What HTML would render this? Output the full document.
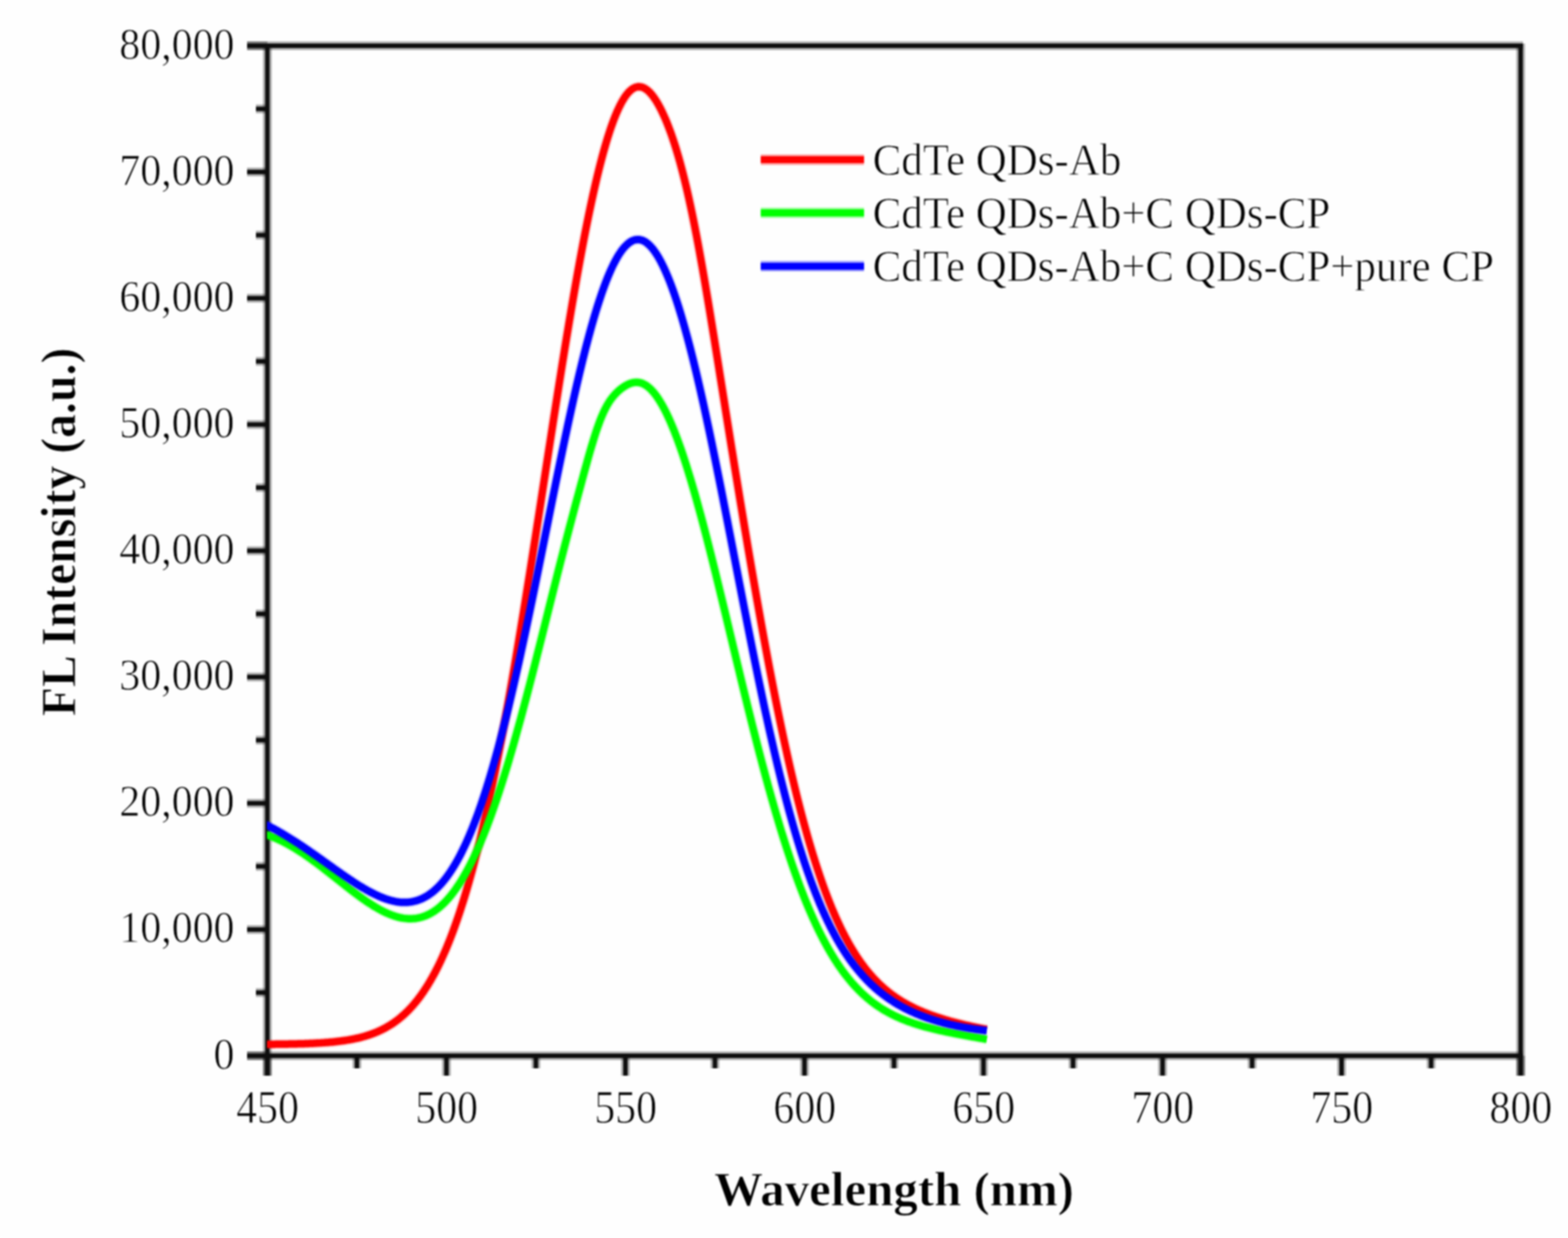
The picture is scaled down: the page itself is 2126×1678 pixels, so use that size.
<!DOCTYPE html>
<html><head><meta charset="utf-8"><title>FL Intensity vs Wavelength</title>
<style>
html,body{margin:0;padding:0;background:#fff;}
body{width:2126px;height:1678px;overflow:hidden;}
svg{display:block;filter:blur(1.1px);}
.t{font-family:"Liberation Serif","Times New Roman",serif;fill:#000;stroke:#fefefe;stroke-width:0.9px;}
</style></head><body>
<svg width="2126" height="1678" viewBox="0 0 2126 1678">
<rect width="2126" height="1678" fill="#fefefe"/>
<g fill="#000" fill-opacity="0.3"><rect x="335.0" y="56.0" width="1730.0" height="12"/><rect x="335.0" y="1425.0" width="1730.0" height="12"/><rect x="356.5" y="59.0" width="12" height="1399.0"/><rect x="2055.8" y="59.0" width="12" height="1399.0"/><rect x="335.0" y="1425.0" width="27.5" height="12"/><rect x="335.0" y="1253.9" width="27.5" height="12"/><rect x="335.0" y="1082.8" width="27.5" height="12"/><rect x="335.0" y="911.6" width="27.5" height="12"/><rect x="335.0" y="740.5" width="27.5" height="12"/><rect x="335.0" y="569.4" width="27.5" height="12"/><rect x="335.0" y="398.2" width="27.5" height="12"/><rect x="335.0" y="227.1" width="27.5" height="12"/><rect x="335.0" y="56.0" width="27.5" height="12"/><rect x="347.0" y="1339.4" width="15.5" height="12"/><rect x="347.0" y="1168.3" width="15.5" height="12"/><rect x="347.0" y="997.2" width="15.5" height="12"/><rect x="347.0" y="826.1" width="15.5" height="12"/><rect x="347.0" y="654.9" width="15.5" height="12"/><rect x="347.0" y="483.8" width="15.5" height="12"/><rect x="347.0" y="312.7" width="15.5" height="12"/><rect x="347.0" y="141.6" width="15.5" height="12"/><rect x="356.5" y="1431.0" width="12" height="27.0"/><rect x="599.3" y="1431.0" width="12" height="27.0"/><rect x="842.0" y="1431.0" width="12" height="27.0"/><rect x="1084.8" y="1431.0" width="12" height="27.0"/><rect x="1327.5" y="1431.0" width="12" height="27.0"/><rect x="1570.3" y="1431.0" width="12" height="27.0"/><rect x="1813.0" y="1431.0" width="12" height="27.0"/><rect x="2055.8" y="1431.0" width="12" height="27.0"/><rect x="477.9" y="1431.0" width="12" height="17.0"/><rect x="720.6" y="1431.0" width="12" height="17.0"/><rect x="963.4" y="1431.0" width="12" height="17.0"/><rect x="1206.2" y="1431.0" width="12" height="17.0"/><rect x="1448.9" y="1431.0" width="12" height="17.0"/><rect x="1691.7" y="1431.0" width="12" height="17.0"/><rect x="1934.4" y="1431.0" width="12" height="17.0"/></g>
<g fill="#0e0e0e"><rect x="335.0" y="59.0" width="1730.0" height="6"/><rect x="335.0" y="1428.0" width="1730.0" height="6"/><rect x="359.5" y="59.0" width="6" height="1399.0"/><rect x="2058.8" y="59.0" width="6" height="1399.0"/><rect x="335.0" y="1428.0" width="27.5" height="6"/><rect x="335.0" y="1256.9" width="27.5" height="6"/><rect x="335.0" y="1085.8" width="27.5" height="6"/><rect x="335.0" y="914.6" width="27.5" height="6"/><rect x="335.0" y="743.5" width="27.5" height="6"/><rect x="335.0" y="572.4" width="27.5" height="6"/><rect x="335.0" y="401.2" width="27.5" height="6"/><rect x="335.0" y="230.1" width="27.5" height="6"/><rect x="335.0" y="59.0" width="27.5" height="6"/><rect x="347.0" y="1342.4" width="15.5" height="6"/><rect x="347.0" y="1171.3" width="15.5" height="6"/><rect x="347.0" y="1000.2" width="15.5" height="6"/><rect x="347.0" y="829.1" width="15.5" height="6"/><rect x="347.0" y="657.9" width="15.5" height="6"/><rect x="347.0" y="486.8" width="15.5" height="6"/><rect x="347.0" y="315.7" width="15.5" height="6"/><rect x="347.0" y="144.6" width="15.5" height="6"/><rect x="359.5" y="1431.0" width="6" height="27.0"/><rect x="602.3" y="1431.0" width="6" height="27.0"/><rect x="845.0" y="1431.0" width="6" height="27.0"/><rect x="1087.8" y="1431.0" width="6" height="27.0"/><rect x="1330.5" y="1431.0" width="6" height="27.0"/><rect x="1573.3" y="1431.0" width="6" height="27.0"/><rect x="1816.0" y="1431.0" width="6" height="27.0"/><rect x="2058.8" y="1431.0" width="6" height="27.0"/><rect x="480.9" y="1431.0" width="6" height="17.0"/><rect x="723.6" y="1431.0" width="6" height="17.0"/><rect x="966.4" y="1431.0" width="6" height="17.0"/><rect x="1209.2" y="1431.0" width="6" height="17.0"/><rect x="1451.9" y="1431.0" width="6" height="17.0"/><rect x="1694.7" y="1431.0" width="6" height="17.0"/><rect x="1937.4" y="1431.0" width="6" height="17.0"/></g>
<clipPath id="plotclip"><rect x="362" y="40" width="1100" height="1400"/></clipPath>
<g fill="none" stroke-linejoin="round" stroke-linecap="butt" clip-path="url(#plotclip)">
<path d="M356.0,1415.50 358.0,1415.49 360.0,1415.47 362.0,1415.46 364.0,1415.45 366.0,1415.43 368.0,1415.41 370.0,1415.40 372.0,1415.38 374.0,1415.36 376.0,1415.34 378.0,1415.31 380.0,1415.29 382.0,1415.27 384.0,1415.24 386.0,1415.21 388.0,1415.18 390.0,1415.15 392.0,1415.11 394.0,1415.08 396.0,1415.04 398.0,1415.00 400.0,1414.95 402.0,1414.90 404.0,1414.86 406.0,1414.80 408.0,1414.75 410.0,1414.69 412.0,1414.63 414.0,1414.56 416.0,1414.49 418.0,1414.41 420.0,1414.33 422.0,1414.25 424.0,1414.16 426.0,1414.07 428.0,1413.97 430.0,1413.86 432.0,1413.75 434.0,1413.63 436.0,1413.51 438.0,1413.38 440.0,1413.24 442.0,1413.09 444.0,1412.93 446.0,1412.77 448.0,1412.60 450.0,1412.41 452.0,1412.22 454.0,1412.02 456.0,1411.80 458.0,1411.57 460.0,1411.33 462.0,1411.08 464.0,1410.82 466.0,1410.54 468.0,1410.24 470.0,1409.93 472.0,1409.61 474.0,1409.26 476.0,1408.90 478.0,1408.52 480.0,1408.12 482.0,1407.70 484.0,1407.26 486.0,1406.80 488.0,1406.32 490.0,1405.81 492.0,1405.27 494.0,1404.71 496.0,1404.13 498.0,1403.51 500.0,1402.87 502.0,1402.19 504.0,1401.48 506.0,1400.74 508.0,1399.97 510.0,1399.16 512.0,1398.31 514.0,1397.42 516.0,1396.50 518.0,1395.53 520.0,1394.52 522.0,1393.46 524.0,1392.36 526.0,1391.21 528.0,1390.02 530.0,1388.77 532.0,1387.46 534.0,1386.11 536.0,1384.69 538.0,1383.22 540.0,1381.69 542.0,1380.10 544.0,1378.44 546.0,1376.71 548.0,1374.92 550.0,1373.06 552.0,1371.12 554.0,1369.11 556.0,1367.02 558.0,1364.86 560.0,1362.61 562.0,1360.28 564.0,1357.87 566.0,1355.36 568.0,1352.77 570.0,1350.09 572.0,1347.31 574.0,1344.43 576.0,1341.45 578.0,1338.37 580.0,1335.19 582.0,1331.90 584.0,1328.51 586.0,1325.00 588.0,1321.38 590.0,1317.64 592.0,1313.79 594.0,1309.81 596.0,1305.71 598.0,1301.49 600.0,1297.14 602.0,1292.66 604.0,1288.05 606.0,1283.30 608.0,1278.42 610.0,1273.41 612.0,1268.25 614.0,1262.95 616.0,1257.51 618.0,1251.92 620.0,1246.18 622.0,1240.30 624.0,1234.27 626.0,1228.08 628.0,1221.74 630.0,1215.25 632.0,1208.60 634.0,1201.79 636.0,1194.82 638.0,1187.70 640.0,1180.41 642.0,1172.97 644.0,1165.36 646.0,1157.60 648.0,1149.67 650.0,1141.57 652.0,1133.32 654.0,1124.90 656.0,1116.32 658.0,1107.58 660.0,1098.68 662.0,1089.62 664.0,1080.40 666.0,1071.02 668.0,1061.48 670.0,1051.78 672.0,1041.93 674.0,1031.93 676.0,1021.78 678.0,1011.47 680.0,1001.02 682.0,990.43 684.0,979.69 686.0,968.81 688.0,957.79 690.0,946.64 692.0,935.37 694.0,923.96 696.0,912.43 698.0,900.78 700.0,889.01 702.0,877.14 704.0,865.15 706.0,853.07 708.0,840.88 710.0,828.60 712.0,816.24 714.0,803.79 716.0,791.26 718.0,778.66 720.0,766.00 722.0,753.27 724.0,740.49 726.0,727.66 728.0,714.79 730.0,701.88 732.0,688.95 734.0,675.99 736.0,663.01 738.0,650.03 740.0,637.04 742.0,624.06 744.0,611.08 746.0,598.13 748.0,585.21 750.0,572.32 752.0,559.46 754.0,546.66 756.0,533.92 758.0,521.23 760.0,508.62 762.0,496.09 764.0,483.65 766.0,471.29 768.0,459.04 770.0,446.90 772.0,434.88 774.0,422.98 776.0,411.21 778.0,399.59 780.0,388.10 782.0,376.78 784.0,365.61 786.0,354.62 788.0,343.79 790.0,333.16 792.0,322.71 794.0,312.45 796.0,302.40 798.0,292.57 800.0,282.94 802.0,273.54 804.0,264.37 806.0,255.43 808.0,246.73 810.0,238.28 812.0,230.08 814.0,222.13 816.0,214.45 818.0,207.03 820.0,199.89 822.0,193.02 824.0,186.43 826.0,180.13 828.0,174.11 830.0,168.38 832.0,162.95 834.0,157.82 836.0,152.99 838.0,148.46 840.0,144.24 842.0,140.32 844.0,136.71 846.0,133.42 848.0,130.43 850.0,127.76 852.0,125.40 854.0,123.35 856.0,121.62 858.0,120.19 860.0,119.07 862.0,118.26 864.0,117.76 866.0,117.56 868.0,117.65 870.0,118.05 872.0,118.73 874.0,119.70 876.0,120.96 878.0,122.49 880.0,124.30 882.0,126.37 884.0,128.71 886.0,131.31 888.0,134.16 890.0,137.25 892.0,140.60 894.0,144.19 896.0,148.01 898.0,152.08 900.0,156.38 902.0,160.92 904.0,165.70 906.0,170.72 908.0,175.98 910.0,181.49 912.0,187.25 914.0,193.27 916.0,199.55 918.0,206.09 920.0,212.91 922.0,220.01 924.0,227.40 926.0,235.08 928.0,243.05 930.0,251.32 932.0,259.88 934.0,268.75 936.0,277.91 938.0,287.36 940.0,297.10 942.0,307.12 944.0,317.41 946.0,327.96 948.0,338.76 950.0,349.79 952.0,361.04 954.0,372.49 956.0,384.13 958.0,395.93 960.0,407.88 962.0,419.97 964.0,432.17 966.0,444.47 968.0,456.85 970.0,469.29 972.0,481.79 974.0,494.32 976.0,506.88 978.0,519.46 980.0,532.04 982.0,544.61 984.0,557.17 986.0,569.72 988.0,582.23 990.0,594.72 992.0,607.17 994.0,619.58 996.0,631.95 998.0,644.28 1000.0,656.55 1002.0,668.78 1004.0,680.95 1006.0,693.06 1008.0,705.12 1010.0,717.12 1012.0,729.05 1014.0,740.92 1016.0,752.72 1018.0,764.44 1020.0,776.10 1022.0,787.68 1024.0,799.17 1026.0,810.59 1028.0,821.91 1030.0,833.15 1032.0,844.30 1034.0,855.35 1036.0,866.30 1038.0,877.15 1040.0,887.89 1042.0,898.53 1044.0,909.06 1046.0,919.47 1048.0,929.77 1050.0,939.95 1052.0,950.00 1054.0,959.94 1056.0,969.75 1058.0,979.43 1060.0,988.98 1062.0,998.40 1064.0,1007.68 1066.0,1016.83 1068.0,1025.85 1070.0,1034.73 1072.0,1043.46 1074.0,1052.06 1076.0,1060.52 1078.0,1068.84 1080.0,1077.02 1082.0,1085.05 1084.0,1092.94 1086.0,1100.69 1088.0,1108.30 1090.0,1115.76 1092.0,1123.08 1094.0,1130.26 1096.0,1137.29 1098.0,1144.19 1100.0,1150.94 1102.0,1157.55 1104.0,1164.02 1106.0,1170.36 1108.0,1176.55 1110.0,1182.61 1112.0,1188.53 1114.0,1194.32 1116.0,1199.97 1118.0,1205.50 1120.0,1210.89 1122.0,1216.15 1124.0,1221.29 1126.0,1226.29 1128.0,1231.18 1130.0,1235.94 1132.0,1240.58 1134.0,1245.11 1136.0,1249.51 1138.0,1253.80 1140.0,1257.98 1142.0,1262.05 1144.0,1266.00 1146.0,1269.85 1148.0,1273.60 1150.0,1277.24 1152.0,1280.78 1154.0,1284.22 1156.0,1287.56 1158.0,1290.81 1160.0,1293.97 1162.0,1297.03 1164.0,1300.01 1166.0,1302.90 1168.0,1305.71 1170.0,1308.43 1172.0,1311.08 1174.0,1313.64 1176.0,1316.13 1178.0,1318.55 1180.0,1320.89 1182.0,1323.16 1184.0,1325.37 1186.0,1327.51 1188.0,1329.58 1190.0,1331.60 1192.0,1333.55 1194.0,1335.44 1196.0,1337.28 1198.0,1339.06 1200.0,1340.79 1202.0,1342.46 1204.0,1344.09 1206.0,1345.67 1208.0,1347.20 1210.0,1348.69 1212.0,1350.13 1214.0,1351.53 1216.0,1352.89 1218.0,1354.20 1220.0,1355.49 1222.0,1356.73 1224.0,1357.94 1226.0,1359.12 1228.0,1360.26 1230.0,1361.37 1232.0,1362.45 1234.0,1363.50 1236.0,1364.52 1238.0,1365.52 1240.0,1366.49 1242.0,1367.43 1244.0,1368.35 1246.0,1369.24 1248.0,1370.12 1250.0,1370.97 1252.0,1371.80 1254.0,1372.61 1256.0,1373.40 1258.0,1374.17 1260.0,1374.93 1262.0,1375.67 1264.0,1376.39 1266.0,1377.09 1268.0,1377.78 1270.0,1378.46 1272.0,1379.12 1274.0,1379.77 1276.0,1380.40 1278.0,1381.02 1280.0,1381.63 1282.0,1382.23 1284.0,1382.81 1286.0,1383.39 1288.0,1383.95 1290.0,1384.50 1292.0,1385.05 1294.0,1385.58 1296.0,1386.11 1298.0,1386.62 1300.0,1387.13 1302.0,1387.63 1304.0,1388.12 1306.0,1388.60 1308.0,1389.07 1310.0,1389.54 1312.0,1390.00 1314.0,1390.45 1316.0,1390.89 1318.0,1391.33 1320.0,1391.76 1322.0,1392.19 1324.0,1392.61 1326.0,1393.02 1328.0,1393.43 1330.0,1393.83 1332.0,1394.22 1334.0,1394.61 1336.0,1394.99 1338.0,1395.37" stroke="#ff0000" stroke-width="13" stroke-opacity="0.3"/>
<path d="M356.0,1415.50 358.0,1415.49 360.0,1415.47 362.0,1415.46 364.0,1415.45 366.0,1415.43 368.0,1415.41 370.0,1415.40 372.0,1415.38 374.0,1415.36 376.0,1415.34 378.0,1415.31 380.0,1415.29 382.0,1415.27 384.0,1415.24 386.0,1415.21 388.0,1415.18 390.0,1415.15 392.0,1415.11 394.0,1415.08 396.0,1415.04 398.0,1415.00 400.0,1414.95 402.0,1414.90 404.0,1414.86 406.0,1414.80 408.0,1414.75 410.0,1414.69 412.0,1414.63 414.0,1414.56 416.0,1414.49 418.0,1414.41 420.0,1414.33 422.0,1414.25 424.0,1414.16 426.0,1414.07 428.0,1413.97 430.0,1413.86 432.0,1413.75 434.0,1413.63 436.0,1413.51 438.0,1413.38 440.0,1413.24 442.0,1413.09 444.0,1412.93 446.0,1412.77 448.0,1412.60 450.0,1412.41 452.0,1412.22 454.0,1412.02 456.0,1411.80 458.0,1411.57 460.0,1411.33 462.0,1411.08 464.0,1410.82 466.0,1410.54 468.0,1410.24 470.0,1409.93 472.0,1409.61 474.0,1409.26 476.0,1408.90 478.0,1408.52 480.0,1408.12 482.0,1407.70 484.0,1407.26 486.0,1406.80 488.0,1406.32 490.0,1405.81 492.0,1405.27 494.0,1404.71 496.0,1404.13 498.0,1403.51 500.0,1402.87 502.0,1402.19 504.0,1401.48 506.0,1400.74 508.0,1399.97 510.0,1399.16 512.0,1398.31 514.0,1397.42 516.0,1396.50 518.0,1395.53 520.0,1394.52 522.0,1393.46 524.0,1392.36 526.0,1391.21 528.0,1390.02 530.0,1388.77 532.0,1387.46 534.0,1386.11 536.0,1384.69 538.0,1383.22 540.0,1381.69 542.0,1380.10 544.0,1378.44 546.0,1376.71 548.0,1374.92 550.0,1373.06 552.0,1371.12 554.0,1369.11 556.0,1367.02 558.0,1364.86 560.0,1362.61 562.0,1360.28 564.0,1357.87 566.0,1355.36 568.0,1352.77 570.0,1350.09 572.0,1347.31 574.0,1344.43 576.0,1341.45 578.0,1338.37 580.0,1335.19 582.0,1331.90 584.0,1328.51 586.0,1325.00 588.0,1321.38 590.0,1317.64 592.0,1313.79 594.0,1309.81 596.0,1305.71 598.0,1301.49 600.0,1297.14 602.0,1292.66 604.0,1288.05 606.0,1283.30 608.0,1278.42 610.0,1273.41 612.0,1268.25 614.0,1262.95 616.0,1257.51 618.0,1251.92 620.0,1246.18 622.0,1240.30 624.0,1234.27 626.0,1228.08 628.0,1221.74 630.0,1215.25 632.0,1208.60 634.0,1201.79 636.0,1194.82 638.0,1187.70 640.0,1180.41 642.0,1172.97 644.0,1165.36 646.0,1157.60 648.0,1149.67 650.0,1141.57 652.0,1133.32 654.0,1124.90 656.0,1116.32 658.0,1107.58 660.0,1098.68 662.0,1089.62 664.0,1080.40 666.0,1071.02 668.0,1061.48 670.0,1051.78 672.0,1041.93 674.0,1031.93 676.0,1021.78 678.0,1011.47 680.0,1001.02 682.0,990.43 684.0,979.69 686.0,968.81 688.0,957.79 690.0,946.64 692.0,935.37 694.0,923.96 696.0,912.43 698.0,900.78 700.0,889.01 702.0,877.14 704.0,865.15 706.0,853.07 708.0,840.88 710.0,828.60 712.0,816.24 714.0,803.79 716.0,791.26 718.0,778.66 720.0,766.00 722.0,753.27 724.0,740.49 726.0,727.66 728.0,714.79 730.0,701.88 732.0,688.95 734.0,675.99 736.0,663.01 738.0,650.03 740.0,637.04 742.0,624.06 744.0,611.08 746.0,598.13 748.0,585.21 750.0,572.32 752.0,559.46 754.0,546.66 756.0,533.92 758.0,521.23 760.0,508.62 762.0,496.09 764.0,483.65 766.0,471.29 768.0,459.04 770.0,446.90 772.0,434.88 774.0,422.98 776.0,411.21 778.0,399.59 780.0,388.10 782.0,376.78 784.0,365.61 786.0,354.62 788.0,343.79 790.0,333.16 792.0,322.71 794.0,312.45 796.0,302.40 798.0,292.57 800.0,282.94 802.0,273.54 804.0,264.37 806.0,255.43 808.0,246.73 810.0,238.28 812.0,230.08 814.0,222.13 816.0,214.45 818.0,207.03 820.0,199.89 822.0,193.02 824.0,186.43 826.0,180.13 828.0,174.11 830.0,168.38 832.0,162.95 834.0,157.82 836.0,152.99 838.0,148.46 840.0,144.24 842.0,140.32 844.0,136.71 846.0,133.42 848.0,130.43 850.0,127.76 852.0,125.40 854.0,123.35 856.0,121.62 858.0,120.19 860.0,119.07 862.0,118.26 864.0,117.76 866.0,117.56 868.0,117.65 870.0,118.05 872.0,118.73 874.0,119.70 876.0,120.96 878.0,122.49 880.0,124.30 882.0,126.37 884.0,128.71 886.0,131.31 888.0,134.16 890.0,137.25 892.0,140.60 894.0,144.19 896.0,148.01 898.0,152.08 900.0,156.38 902.0,160.92 904.0,165.70 906.0,170.72 908.0,175.98 910.0,181.49 912.0,187.25 914.0,193.27 916.0,199.55 918.0,206.09 920.0,212.91 922.0,220.01 924.0,227.40 926.0,235.08 928.0,243.05 930.0,251.32 932.0,259.88 934.0,268.75 936.0,277.91 938.0,287.36 940.0,297.10 942.0,307.12 944.0,317.41 946.0,327.96 948.0,338.76 950.0,349.79 952.0,361.04 954.0,372.49 956.0,384.13 958.0,395.93 960.0,407.88 962.0,419.97 964.0,432.17 966.0,444.47 968.0,456.85 970.0,469.29 972.0,481.79 974.0,494.32 976.0,506.88 978.0,519.46 980.0,532.04 982.0,544.61 984.0,557.17 986.0,569.72 988.0,582.23 990.0,594.72 992.0,607.17 994.0,619.58 996.0,631.95 998.0,644.28 1000.0,656.55 1002.0,668.78 1004.0,680.95 1006.0,693.06 1008.0,705.12 1010.0,717.12 1012.0,729.05 1014.0,740.92 1016.0,752.72 1018.0,764.44 1020.0,776.10 1022.0,787.68 1024.0,799.17 1026.0,810.59 1028.0,821.91 1030.0,833.15 1032.0,844.30 1034.0,855.35 1036.0,866.30 1038.0,877.15 1040.0,887.89 1042.0,898.53 1044.0,909.06 1046.0,919.47 1048.0,929.77 1050.0,939.95 1052.0,950.00 1054.0,959.94 1056.0,969.75 1058.0,979.43 1060.0,988.98 1062.0,998.40 1064.0,1007.68 1066.0,1016.83 1068.0,1025.85 1070.0,1034.73 1072.0,1043.46 1074.0,1052.06 1076.0,1060.52 1078.0,1068.84 1080.0,1077.02 1082.0,1085.05 1084.0,1092.94 1086.0,1100.69 1088.0,1108.30 1090.0,1115.76 1092.0,1123.08 1094.0,1130.26 1096.0,1137.29 1098.0,1144.19 1100.0,1150.94 1102.0,1157.55 1104.0,1164.02 1106.0,1170.36 1108.0,1176.55 1110.0,1182.61 1112.0,1188.53 1114.0,1194.32 1116.0,1199.97 1118.0,1205.50 1120.0,1210.89 1122.0,1216.15 1124.0,1221.29 1126.0,1226.29 1128.0,1231.18 1130.0,1235.94 1132.0,1240.58 1134.0,1245.11 1136.0,1249.51 1138.0,1253.80 1140.0,1257.98 1142.0,1262.05 1144.0,1266.00 1146.0,1269.85 1148.0,1273.60 1150.0,1277.24 1152.0,1280.78 1154.0,1284.22 1156.0,1287.56 1158.0,1290.81 1160.0,1293.97 1162.0,1297.03 1164.0,1300.01 1166.0,1302.90 1168.0,1305.71 1170.0,1308.43 1172.0,1311.08 1174.0,1313.64 1176.0,1316.13 1178.0,1318.55 1180.0,1320.89 1182.0,1323.16 1184.0,1325.37 1186.0,1327.51 1188.0,1329.58 1190.0,1331.60 1192.0,1333.55 1194.0,1335.44 1196.0,1337.28 1198.0,1339.06 1200.0,1340.79 1202.0,1342.46 1204.0,1344.09 1206.0,1345.67 1208.0,1347.20 1210.0,1348.69 1212.0,1350.13 1214.0,1351.53 1216.0,1352.89 1218.0,1354.20 1220.0,1355.49 1222.0,1356.73 1224.0,1357.94 1226.0,1359.12 1228.0,1360.26 1230.0,1361.37 1232.0,1362.45 1234.0,1363.50 1236.0,1364.52 1238.0,1365.52 1240.0,1366.49 1242.0,1367.43 1244.0,1368.35 1246.0,1369.24 1248.0,1370.12 1250.0,1370.97 1252.0,1371.80 1254.0,1372.61 1256.0,1373.40 1258.0,1374.17 1260.0,1374.93 1262.0,1375.67 1264.0,1376.39 1266.0,1377.09 1268.0,1377.78 1270.0,1378.46 1272.0,1379.12 1274.0,1379.77 1276.0,1380.40 1278.0,1381.02 1280.0,1381.63 1282.0,1382.23 1284.0,1382.81 1286.0,1383.39 1288.0,1383.95 1290.0,1384.50 1292.0,1385.05 1294.0,1385.58 1296.0,1386.11 1298.0,1386.62 1300.0,1387.13 1302.0,1387.63 1304.0,1388.12 1306.0,1388.60 1308.0,1389.07 1310.0,1389.54 1312.0,1390.00 1314.0,1390.45 1316.0,1390.89 1318.0,1391.33 1320.0,1391.76 1322.0,1392.19 1324.0,1392.61 1326.0,1393.02 1328.0,1393.43 1330.0,1393.83 1332.0,1394.22 1334.0,1394.61 1336.0,1394.99 1338.0,1395.37" stroke="#ff0000" stroke-width="9.5"/>
<path d="M356.0,1129.76 358.0,1130.36 360.0,1130.99 362.0,1131.65 364.0,1132.35 366.0,1133.07 368.0,1133.83 370.0,1134.62 372.0,1135.44 374.0,1136.29 376.0,1137.18 378.0,1138.09 380.0,1139.03 382.0,1140.00 384.0,1141.00 386.0,1142.02 388.0,1143.08 390.0,1144.16 392.0,1145.26 394.0,1146.40 396.0,1147.55 398.0,1148.74 400.0,1149.95 402.0,1151.18 404.0,1152.43 406.0,1153.71 408.0,1155.00 410.0,1156.32 412.0,1157.66 414.0,1159.02 416.0,1160.40 418.0,1161.79 420.0,1163.21 422.0,1164.64 424.0,1166.08 426.0,1167.55 428.0,1169.02 430.0,1170.51 432.0,1172.01 434.0,1173.53 436.0,1175.05 438.0,1176.59 440.0,1178.13 442.0,1179.69 444.0,1181.25 446.0,1182.82 448.0,1184.39 450.0,1185.97 452.0,1187.55 454.0,1189.13 456.0,1190.72 458.0,1192.31 460.0,1193.89 462.0,1195.48 464.0,1197.06 466.0,1198.64 468.0,1200.21 470.0,1201.78 472.0,1203.34 474.0,1204.89 476.0,1206.44 478.0,1207.97 480.0,1209.49 482.0,1211.00 484.0,1212.49 486.0,1213.97 488.0,1215.43 490.0,1216.88 492.0,1218.30 494.0,1219.70 496.0,1221.09 498.0,1222.45 500.0,1223.78 502.0,1225.09 504.0,1226.37 506.0,1227.62 508.0,1228.84 510.0,1230.03 512.0,1231.19 514.0,1232.31 516.0,1233.40 518.0,1234.45 520.0,1235.46 522.0,1236.43 524.0,1237.36 526.0,1238.24 528.0,1239.08 530.0,1239.87 532.0,1240.62 534.0,1241.31 536.0,1241.96 538.0,1242.55 540.0,1243.08 542.0,1243.56 544.0,1243.99 546.0,1244.35 548.0,1244.65 550.0,1244.89 552.0,1245.07 554.0,1245.18 556.0,1245.22 558.0,1245.20 560.0,1245.10 562.0,1244.94 564.0,1244.70 566.0,1244.38 568.0,1243.99 570.0,1243.52 572.0,1242.97 574.0,1242.33 576.0,1241.62 578.0,1240.82 580.0,1239.93 582.0,1238.96 584.0,1237.90 586.0,1236.75 588.0,1235.50 590.0,1234.17 592.0,1232.73 594.0,1231.21 596.0,1229.58 598.0,1227.86 600.0,1226.04 602.0,1224.11 604.0,1222.09 606.0,1219.96 608.0,1217.72 610.0,1215.39 612.0,1212.94 614.0,1210.39 616.0,1207.73 618.0,1204.96 620.0,1202.08 622.0,1199.09 624.0,1195.98 626.0,1192.77 628.0,1189.44 630.0,1186.00 632.0,1182.45 634.0,1178.78 636.0,1175.00 638.0,1171.10 640.0,1167.09 642.0,1162.96 644.0,1158.72 646.0,1154.36 648.0,1149.89 650.0,1145.30 652.0,1140.60 654.0,1135.78 656.0,1130.85 658.0,1125.81 660.0,1120.66 662.0,1115.39 664.0,1110.01 666.0,1104.53 668.0,1098.93 670.0,1093.23 672.0,1087.42 674.0,1081.50 676.0,1075.48 678.0,1069.36 680.0,1063.14 682.0,1056.81 684.0,1050.39 686.0,1043.88 688.0,1037.27 690.0,1030.57 692.0,1023.78 694.0,1016.91 696.0,1009.94 698.0,1002.90 700.0,995.78 702.0,988.58 704.0,981.31 706.0,973.97 708.0,966.55 710.0,959.08 712.0,951.54 714.0,943.94 716.0,936.29 718.0,928.59 720.0,920.84 722.0,913.05 724.0,905.21 726.0,897.34 728.0,889.43 730.0,881.50 732.0,873.54 734.0,865.57 736.0,857.57 738.0,849.56 740.0,841.55 742.0,833.53 744.0,825.51 746.0,817.50 748.0,809.50 750.0,801.51 752.0,793.54 754.0,785.59 756.0,777.67 758.0,769.78 760.0,761.92 762.0,754.09 764.0,746.31 766.0,738.56 768.0,730.85 770.0,723.18 772.0,715.54 774.0,707.95 776.0,700.38 778.0,692.85 780.0,685.33 782.0,677.85 784.0,670.38 786.0,662.93 788.0,655.51 790.0,648.12 792.0,640.76 794.0,633.46 796.0,626.22 798.0,619.08 800.0,612.06 802.0,605.20 804.0,598.52 806.0,592.06 808.0,585.85 810.0,579.93 812.0,574.32 814.0,569.05 816.0,564.12 818.0,559.55 820.0,555.34 822.0,551.47 824.0,547.93 826.0,544.70 828.0,541.76 830.0,539.08 832.0,536.63 834.0,534.38 836.0,532.32 838.0,530.41 840.0,528.66 842.0,527.03 844.0,525.53 846.0,524.15 848.0,522.90 850.0,521.78 852.0,520.80 854.0,519.95 856.0,519.26 858.0,518.74 860.0,518.38 862.0,518.20 864.0,518.20 866.0,518.40 868.0,518.79 870.0,519.38 872.0,520.18 874.0,521.19 876.0,522.40 878.0,523.82 880.0,525.45 882.0,527.29 884.0,529.34 886.0,531.59 888.0,534.05 890.0,536.71 892.0,539.58 894.0,542.65 896.0,545.91 898.0,549.37 900.0,553.03 902.0,556.87 904.0,560.91 906.0,565.13 908.0,569.53 910.0,574.11 912.0,578.87 914.0,583.80 916.0,588.90 918.0,594.17 920.0,599.60 922.0,605.19 924.0,610.93 926.0,616.82 928.0,622.87 930.0,629.05 932.0,635.37 934.0,641.83 936.0,648.41 938.0,655.13 940.0,661.96 942.0,668.91 944.0,675.98 946.0,683.15 948.0,690.42 950.0,697.80 952.0,705.26 954.0,712.82 956.0,720.46 958.0,728.18 960.0,735.98 962.0,743.85 964.0,751.78 966.0,759.78 968.0,767.83 970.0,775.93 972.0,784.08 974.0,792.28 976.0,800.51 978.0,808.77 980.0,817.07 982.0,825.39 984.0,833.73 986.0,842.08 988.0,850.44 990.0,858.82 992.0,867.19 994.0,875.57 996.0,883.93 998.0,892.29 1000.0,900.64 1002.0,908.97 1004.0,917.27 1006.0,925.55 1008.0,933.81 1010.0,942.03 1012.0,950.21 1014.0,958.36 1016.0,966.47 1018.0,974.52 1020.0,982.53 1022.0,990.49 1024.0,998.40 1026.0,1006.24 1028.0,1014.03 1030.0,1021.75 1032.0,1029.41 1034.0,1037.00 1036.0,1044.52 1038.0,1051.97 1040.0,1059.34 1042.0,1066.64 1044.0,1073.85 1046.0,1080.99 1048.0,1088.05 1050.0,1095.02 1052.0,1101.90 1054.0,1108.70 1056.0,1115.41 1058.0,1122.04 1060.0,1128.57 1062.0,1135.01 1064.0,1141.36 1066.0,1147.61 1068.0,1153.77 1070.0,1159.84 1072.0,1165.81 1074.0,1171.68 1076.0,1177.46 1078.0,1183.14 1080.0,1188.72 1082.0,1194.21 1084.0,1199.60 1086.0,1204.89 1088.0,1210.08 1090.0,1215.18 1092.0,1220.18 1094.0,1225.09 1096.0,1229.89 1098.0,1234.60 1100.0,1239.22 1102.0,1243.74 1104.0,1248.17 1106.0,1252.50 1108.0,1256.74 1110.0,1260.89 1112.0,1264.94 1114.0,1268.91 1116.0,1272.78 1118.0,1276.57 1120.0,1280.26 1122.0,1283.87 1124.0,1287.40 1126.0,1290.84 1128.0,1294.19 1130.0,1297.46 1132.0,1300.66 1134.0,1303.77 1136.0,1306.80 1138.0,1309.75 1140.0,1312.63 1142.0,1315.43 1144.0,1318.16 1146.0,1320.81 1148.0,1323.39 1150.0,1325.90 1152.0,1328.35 1154.0,1330.72 1156.0,1333.03 1158.0,1335.28 1160.0,1337.46 1162.0,1339.58 1164.0,1341.64 1166.0,1343.64 1168.0,1345.58 1170.0,1347.46 1172.0,1349.29 1174.0,1351.07 1176.0,1352.79 1178.0,1354.46 1180.0,1356.08 1182.0,1357.65 1184.0,1359.18 1186.0,1360.66 1188.0,1362.09 1190.0,1363.48 1192.0,1364.83 1194.0,1366.14 1196.0,1367.41 1198.0,1368.63 1200.0,1369.83 1202.0,1370.98 1204.0,1372.10 1206.0,1373.19 1208.0,1374.24 1210.0,1375.26 1212.0,1376.25 1214.0,1377.21 1216.0,1378.14 1218.0,1379.05 1220.0,1379.92 1222.0,1380.78 1224.0,1381.60 1226.0,1382.41 1228.0,1383.19 1230.0,1383.94 1232.0,1384.68 1234.0,1385.40 1236.0,1386.09 1238.0,1386.77 1240.0,1387.43 1242.0,1388.08 1244.0,1388.70 1246.0,1389.31 1248.0,1389.91 1250.0,1390.49 1252.0,1391.06 1254.0,1391.61 1256.0,1392.16 1258.0,1392.69 1260.0,1393.20 1262.0,1393.71 1264.0,1394.21 1266.0,1394.70 1268.0,1395.18 1270.0,1395.65 1272.0,1396.11 1274.0,1396.56 1276.0,1397.01 1278.0,1397.45 1280.0,1397.88 1282.0,1398.31 1284.0,1398.73 1286.0,1399.14 1288.0,1399.55 1290.0,1399.95 1292.0,1400.35 1294.0,1400.75 1296.0,1401.14 1298.0,1401.53 1300.0,1401.91 1302.0,1402.29 1304.0,1402.67 1306.0,1403.04 1308.0,1403.41 1310.0,1403.78 1312.0,1404.14 1314.0,1404.51 1316.0,1404.87 1318.0,1405.23 1320.0,1405.58 1322.0,1405.94 1324.0,1406.29 1326.0,1406.65 1328.0,1407.00 1330.0,1407.35 1332.0,1407.69 1334.0,1408.04 1336.0,1408.38 1338.0,1408.73" stroke="#00ff00" stroke-width="13" stroke-opacity="0.3"/>
<path d="M356.0,1129.76 358.0,1130.36 360.0,1130.99 362.0,1131.65 364.0,1132.35 366.0,1133.07 368.0,1133.83 370.0,1134.62 372.0,1135.44 374.0,1136.29 376.0,1137.18 378.0,1138.09 380.0,1139.03 382.0,1140.00 384.0,1141.00 386.0,1142.02 388.0,1143.08 390.0,1144.16 392.0,1145.26 394.0,1146.40 396.0,1147.55 398.0,1148.74 400.0,1149.95 402.0,1151.18 404.0,1152.43 406.0,1153.71 408.0,1155.00 410.0,1156.32 412.0,1157.66 414.0,1159.02 416.0,1160.40 418.0,1161.79 420.0,1163.21 422.0,1164.64 424.0,1166.08 426.0,1167.55 428.0,1169.02 430.0,1170.51 432.0,1172.01 434.0,1173.53 436.0,1175.05 438.0,1176.59 440.0,1178.13 442.0,1179.69 444.0,1181.25 446.0,1182.82 448.0,1184.39 450.0,1185.97 452.0,1187.55 454.0,1189.13 456.0,1190.72 458.0,1192.31 460.0,1193.89 462.0,1195.48 464.0,1197.06 466.0,1198.64 468.0,1200.21 470.0,1201.78 472.0,1203.34 474.0,1204.89 476.0,1206.44 478.0,1207.97 480.0,1209.49 482.0,1211.00 484.0,1212.49 486.0,1213.97 488.0,1215.43 490.0,1216.88 492.0,1218.30 494.0,1219.70 496.0,1221.09 498.0,1222.45 500.0,1223.78 502.0,1225.09 504.0,1226.37 506.0,1227.62 508.0,1228.84 510.0,1230.03 512.0,1231.19 514.0,1232.31 516.0,1233.40 518.0,1234.45 520.0,1235.46 522.0,1236.43 524.0,1237.36 526.0,1238.24 528.0,1239.08 530.0,1239.87 532.0,1240.62 534.0,1241.31 536.0,1241.96 538.0,1242.55 540.0,1243.08 542.0,1243.56 544.0,1243.99 546.0,1244.35 548.0,1244.65 550.0,1244.89 552.0,1245.07 554.0,1245.18 556.0,1245.22 558.0,1245.20 560.0,1245.10 562.0,1244.94 564.0,1244.70 566.0,1244.38 568.0,1243.99 570.0,1243.52 572.0,1242.97 574.0,1242.33 576.0,1241.62 578.0,1240.82 580.0,1239.93 582.0,1238.96 584.0,1237.90 586.0,1236.75 588.0,1235.50 590.0,1234.17 592.0,1232.73 594.0,1231.21 596.0,1229.58 598.0,1227.86 600.0,1226.04 602.0,1224.11 604.0,1222.09 606.0,1219.96 608.0,1217.72 610.0,1215.39 612.0,1212.94 614.0,1210.39 616.0,1207.73 618.0,1204.96 620.0,1202.08 622.0,1199.09 624.0,1195.98 626.0,1192.77 628.0,1189.44 630.0,1186.00 632.0,1182.45 634.0,1178.78 636.0,1175.00 638.0,1171.10 640.0,1167.09 642.0,1162.96 644.0,1158.72 646.0,1154.36 648.0,1149.89 650.0,1145.30 652.0,1140.60 654.0,1135.78 656.0,1130.85 658.0,1125.81 660.0,1120.66 662.0,1115.39 664.0,1110.01 666.0,1104.53 668.0,1098.93 670.0,1093.23 672.0,1087.42 674.0,1081.50 676.0,1075.48 678.0,1069.36 680.0,1063.14 682.0,1056.81 684.0,1050.39 686.0,1043.88 688.0,1037.27 690.0,1030.57 692.0,1023.78 694.0,1016.91 696.0,1009.94 698.0,1002.90 700.0,995.78 702.0,988.58 704.0,981.31 706.0,973.97 708.0,966.55 710.0,959.08 712.0,951.54 714.0,943.94 716.0,936.29 718.0,928.59 720.0,920.84 722.0,913.05 724.0,905.21 726.0,897.34 728.0,889.43 730.0,881.50 732.0,873.54 734.0,865.57 736.0,857.57 738.0,849.56 740.0,841.55 742.0,833.53 744.0,825.51 746.0,817.50 748.0,809.50 750.0,801.51 752.0,793.54 754.0,785.59 756.0,777.67 758.0,769.78 760.0,761.92 762.0,754.09 764.0,746.31 766.0,738.56 768.0,730.85 770.0,723.18 772.0,715.54 774.0,707.95 776.0,700.38 778.0,692.85 780.0,685.33 782.0,677.85 784.0,670.38 786.0,662.93 788.0,655.51 790.0,648.12 792.0,640.76 794.0,633.46 796.0,626.22 798.0,619.08 800.0,612.06 802.0,605.20 804.0,598.52 806.0,592.06 808.0,585.85 810.0,579.93 812.0,574.32 814.0,569.05 816.0,564.12 818.0,559.55 820.0,555.34 822.0,551.47 824.0,547.93 826.0,544.70 828.0,541.76 830.0,539.08 832.0,536.63 834.0,534.38 836.0,532.32 838.0,530.41 840.0,528.66 842.0,527.03 844.0,525.53 846.0,524.15 848.0,522.90 850.0,521.78 852.0,520.80 854.0,519.95 856.0,519.26 858.0,518.74 860.0,518.38 862.0,518.20 864.0,518.20 866.0,518.40 868.0,518.79 870.0,519.38 872.0,520.18 874.0,521.19 876.0,522.40 878.0,523.82 880.0,525.45 882.0,527.29 884.0,529.34 886.0,531.59 888.0,534.05 890.0,536.71 892.0,539.58 894.0,542.65 896.0,545.91 898.0,549.37 900.0,553.03 902.0,556.87 904.0,560.91 906.0,565.13 908.0,569.53 910.0,574.11 912.0,578.87 914.0,583.80 916.0,588.90 918.0,594.17 920.0,599.60 922.0,605.19 924.0,610.93 926.0,616.82 928.0,622.87 930.0,629.05 932.0,635.37 934.0,641.83 936.0,648.41 938.0,655.13 940.0,661.96 942.0,668.91 944.0,675.98 946.0,683.15 948.0,690.42 950.0,697.80 952.0,705.26 954.0,712.82 956.0,720.46 958.0,728.18 960.0,735.98 962.0,743.85 964.0,751.78 966.0,759.78 968.0,767.83 970.0,775.93 972.0,784.08 974.0,792.28 976.0,800.51 978.0,808.77 980.0,817.07 982.0,825.39 984.0,833.73 986.0,842.08 988.0,850.44 990.0,858.82 992.0,867.19 994.0,875.57 996.0,883.93 998.0,892.29 1000.0,900.64 1002.0,908.97 1004.0,917.27 1006.0,925.55 1008.0,933.81 1010.0,942.03 1012.0,950.21 1014.0,958.36 1016.0,966.47 1018.0,974.52 1020.0,982.53 1022.0,990.49 1024.0,998.40 1026.0,1006.24 1028.0,1014.03 1030.0,1021.75 1032.0,1029.41 1034.0,1037.00 1036.0,1044.52 1038.0,1051.97 1040.0,1059.34 1042.0,1066.64 1044.0,1073.85 1046.0,1080.99 1048.0,1088.05 1050.0,1095.02 1052.0,1101.90 1054.0,1108.70 1056.0,1115.41 1058.0,1122.04 1060.0,1128.57 1062.0,1135.01 1064.0,1141.36 1066.0,1147.61 1068.0,1153.77 1070.0,1159.84 1072.0,1165.81 1074.0,1171.68 1076.0,1177.46 1078.0,1183.14 1080.0,1188.72 1082.0,1194.21 1084.0,1199.60 1086.0,1204.89 1088.0,1210.08 1090.0,1215.18 1092.0,1220.18 1094.0,1225.09 1096.0,1229.89 1098.0,1234.60 1100.0,1239.22 1102.0,1243.74 1104.0,1248.17 1106.0,1252.50 1108.0,1256.74 1110.0,1260.89 1112.0,1264.94 1114.0,1268.91 1116.0,1272.78 1118.0,1276.57 1120.0,1280.26 1122.0,1283.87 1124.0,1287.40 1126.0,1290.84 1128.0,1294.19 1130.0,1297.46 1132.0,1300.66 1134.0,1303.77 1136.0,1306.80 1138.0,1309.75 1140.0,1312.63 1142.0,1315.43 1144.0,1318.16 1146.0,1320.81 1148.0,1323.39 1150.0,1325.90 1152.0,1328.35 1154.0,1330.72 1156.0,1333.03 1158.0,1335.28 1160.0,1337.46 1162.0,1339.58 1164.0,1341.64 1166.0,1343.64 1168.0,1345.58 1170.0,1347.46 1172.0,1349.29 1174.0,1351.07 1176.0,1352.79 1178.0,1354.46 1180.0,1356.08 1182.0,1357.65 1184.0,1359.18 1186.0,1360.66 1188.0,1362.09 1190.0,1363.48 1192.0,1364.83 1194.0,1366.14 1196.0,1367.41 1198.0,1368.63 1200.0,1369.83 1202.0,1370.98 1204.0,1372.10 1206.0,1373.19 1208.0,1374.24 1210.0,1375.26 1212.0,1376.25 1214.0,1377.21 1216.0,1378.14 1218.0,1379.05 1220.0,1379.92 1222.0,1380.78 1224.0,1381.60 1226.0,1382.41 1228.0,1383.19 1230.0,1383.94 1232.0,1384.68 1234.0,1385.40 1236.0,1386.09 1238.0,1386.77 1240.0,1387.43 1242.0,1388.08 1244.0,1388.70 1246.0,1389.31 1248.0,1389.91 1250.0,1390.49 1252.0,1391.06 1254.0,1391.61 1256.0,1392.16 1258.0,1392.69 1260.0,1393.20 1262.0,1393.71 1264.0,1394.21 1266.0,1394.70 1268.0,1395.18 1270.0,1395.65 1272.0,1396.11 1274.0,1396.56 1276.0,1397.01 1278.0,1397.45 1280.0,1397.88 1282.0,1398.31 1284.0,1398.73 1286.0,1399.14 1288.0,1399.55 1290.0,1399.95 1292.0,1400.35 1294.0,1400.75 1296.0,1401.14 1298.0,1401.53 1300.0,1401.91 1302.0,1402.29 1304.0,1402.67 1306.0,1403.04 1308.0,1403.41 1310.0,1403.78 1312.0,1404.14 1314.0,1404.51 1316.0,1404.87 1318.0,1405.23 1320.0,1405.58 1322.0,1405.94 1324.0,1406.29 1326.0,1406.65 1328.0,1407.00 1330.0,1407.35 1332.0,1407.69 1334.0,1408.04 1336.0,1408.38 1338.0,1408.73" stroke="#00ff00" stroke-width="9.5"/>
<path d="M356.0,1115.69 358.0,1116.64 360.0,1117.61 362.0,1118.59 364.0,1119.59 366.0,1120.62 368.0,1121.66 370.0,1122.72 372.0,1123.79 374.0,1124.88 376.0,1125.99 378.0,1127.12 380.0,1128.26 382.0,1129.42 384.0,1130.59 386.0,1131.78 388.0,1132.98 390.0,1134.20 392.0,1135.43 394.0,1136.67 396.0,1137.93 398.0,1139.20 400.0,1140.48 402.0,1141.78 404.0,1143.09 406.0,1144.40 408.0,1145.73 410.0,1147.07 412.0,1148.42 414.0,1149.77 416.0,1151.14 418.0,1152.51 420.0,1153.89 422.0,1155.28 424.0,1156.68 426.0,1158.08 428.0,1159.49 430.0,1160.90 432.0,1162.32 434.0,1163.74 436.0,1165.16 438.0,1166.58 440.0,1168.01 442.0,1169.44 444.0,1170.87 446.0,1172.30 448.0,1173.73 450.0,1175.16 452.0,1176.58 454.0,1178.00 456.0,1179.42 458.0,1180.84 460.0,1182.25 462.0,1183.65 464.0,1185.04 466.0,1186.43 468.0,1187.81 470.0,1189.18 472.0,1190.54 474.0,1191.89 476.0,1193.23 478.0,1194.55 480.0,1195.86 482.0,1197.15 484.0,1198.42 486.0,1199.68 488.0,1200.92 490.0,1202.14 492.0,1203.34 494.0,1204.52 496.0,1205.68 498.0,1206.81 500.0,1207.91 502.0,1208.99 504.0,1210.04 506.0,1211.06 508.0,1212.05 510.0,1213.01 512.0,1213.93 514.0,1214.82 516.0,1215.67 518.0,1216.49 520.0,1217.26 522.0,1218.00 524.0,1218.69 526.0,1219.33 528.0,1219.94 530.0,1220.49 532.0,1221.00 534.0,1221.45 536.0,1221.85 538.0,1222.20 540.0,1222.49 542.0,1222.73 544.0,1222.90 546.0,1223.02 548.0,1223.07 550.0,1223.05 552.0,1222.97 554.0,1222.82 556.0,1222.60 558.0,1222.31 560.0,1221.94 562.0,1221.49 564.0,1220.97 566.0,1220.36 568.0,1219.68 570.0,1218.91 572.0,1218.05 574.0,1217.10 576.0,1216.06 578.0,1214.93 580.0,1213.71 582.0,1212.39 584.0,1210.97 586.0,1209.45 588.0,1207.83 590.0,1206.10 592.0,1204.26 594.0,1202.32 596.0,1200.27 598.0,1198.10 600.0,1195.82 602.0,1193.42 604.0,1190.91 606.0,1188.28 608.0,1185.52 610.0,1182.64 612.0,1179.64 614.0,1176.51 616.0,1173.26 618.0,1169.87 620.0,1166.35 622.0,1162.71 624.0,1158.92 626.0,1155.01 628.0,1150.96 630.0,1146.77 632.0,1142.44 634.0,1137.98 636.0,1133.37 638.0,1128.63 640.0,1123.74 642.0,1118.72 644.0,1113.55 646.0,1108.24 648.0,1102.79 650.0,1097.19 652.0,1091.45 654.0,1085.57 656.0,1079.55 658.0,1073.39 660.0,1067.08 662.0,1060.64 664.0,1054.05 666.0,1047.33 668.0,1040.47 670.0,1033.47 672.0,1026.33 674.0,1019.06 676.0,1011.66 678.0,1004.13 680.0,996.47 682.0,988.68 684.0,980.77 686.0,972.73 688.0,964.58 690.0,956.30 692.0,947.92 694.0,939.42 696.0,930.81 698.0,922.09 700.0,913.28 702.0,904.36 704.0,895.36 706.0,886.26 708.0,877.07 710.0,867.80 712.0,858.45 714.0,849.02 716.0,839.53 718.0,829.97 720.0,820.35 722.0,810.67 724.0,800.94 726.0,791.16 728.0,781.35 730.0,771.50 732.0,761.62 734.0,751.71 736.0,741.79 738.0,731.85 740.0,721.90 742.0,711.95 744.0,702.01 746.0,692.08 748.0,682.16 750.0,672.26 752.0,662.39 754.0,652.56 756.0,642.76 758.0,633.02 760.0,623.32 762.0,613.68 764.0,604.11 766.0,594.61 768.0,585.19 770.0,575.85 772.0,566.60 774.0,557.44 776.0,548.39 778.0,539.44 780.0,530.61 782.0,521.90 784.0,513.31 786.0,504.85 788.0,496.53 790.0,488.35 792.0,480.32 794.0,472.44 796.0,464.72 798.0,457.16 800.0,449.77 802.0,442.56 804.0,435.52 806.0,428.66 808.0,421.99 810.0,415.51 812.0,409.23 814.0,403.15 816.0,397.27 818.0,391.60 820.0,386.14 822.0,380.90 824.0,375.87 826.0,371.06 828.0,366.48 830.0,362.12 832.0,357.99 834.0,354.10 836.0,350.44 838.0,347.01 840.0,343.83 842.0,340.88 844.0,338.18 846.0,335.72 848.0,333.51 850.0,331.54 852.0,329.81 854.0,328.34 856.0,327.11 858.0,326.14 860.0,325.41 862.0,324.93 864.0,324.71 866.0,324.73 868.0,325.00 870.0,325.52 872.0,326.29 874.0,327.31 876.0,328.58 878.0,330.09 880.0,331.85 882.0,333.85 884.0,336.09 886.0,338.58 888.0,341.31 890.0,344.27 892.0,347.47 894.0,350.91 896.0,354.58 898.0,358.47 900.0,362.60 902.0,366.95 904.0,371.53 906.0,376.32 908.0,381.33 910.0,386.56 912.0,392.00 914.0,397.64 916.0,403.49 918.0,409.55 920.0,415.80 922.0,422.24 924.0,428.88 926.0,435.71 928.0,442.72 930.0,449.90 932.0,457.27 934.0,464.80 936.0,472.50 938.0,480.37 940.0,488.39 942.0,496.57 944.0,504.89 946.0,513.36 948.0,521.97 950.0,530.72 952.0,539.59 954.0,548.59 956.0,557.70 958.0,566.93 960.0,576.27 962.0,585.71 964.0,595.25 966.0,604.88 968.0,614.60 970.0,624.40 972.0,634.28 974.0,644.22 976.0,654.23 978.0,664.30 980.0,674.42 982.0,684.58 984.0,694.79 986.0,705.03 988.0,715.30 990.0,725.60 992.0,735.91 994.0,746.24 996.0,756.57 998.0,766.90 1000.0,777.23 1002.0,787.55 1004.0,797.85 1006.0,808.13 1008.0,818.39 1010.0,828.61 1012.0,838.79 1014.0,848.94 1016.0,859.03 1018.0,869.08 1020.0,879.06 1022.0,888.99 1024.0,898.85 1026.0,908.64 1028.0,918.35 1030.0,927.99 1032.0,937.54 1034.0,947.01 1036.0,956.39 1038.0,965.67 1040.0,974.85 1042.0,983.94 1044.0,992.92 1046.0,1001.80 1048.0,1010.56 1050.0,1019.22 1052.0,1027.76 1054.0,1036.18 1056.0,1044.49 1058.0,1052.68 1060.0,1060.74 1062.0,1068.69 1064.0,1076.50 1066.0,1084.19 1068.0,1091.76 1070.0,1099.19 1072.0,1106.50 1074.0,1113.68 1076.0,1120.73 1078.0,1127.65 1080.0,1134.44 1082.0,1141.10 1084.0,1147.63 1086.0,1154.03 1088.0,1160.31 1090.0,1166.45 1092.0,1172.47 1094.0,1178.36 1096.0,1184.12 1098.0,1189.76 1100.0,1195.27 1102.0,1200.66 1104.0,1205.93 1106.0,1211.08 1108.0,1216.11 1110.0,1221.02 1112.0,1225.82 1114.0,1230.50 1116.0,1235.07 1118.0,1239.53 1120.0,1243.88 1122.0,1248.12 1124.0,1252.26 1126.0,1256.29 1128.0,1260.22 1130.0,1264.05 1132.0,1267.79 1134.0,1271.42 1136.0,1274.97 1138.0,1278.42 1140.0,1281.78 1142.0,1285.05 1144.0,1288.24 1146.0,1291.35 1148.0,1294.37 1150.0,1297.31 1152.0,1300.17 1154.0,1302.96 1156.0,1305.67 1158.0,1308.31 1160.0,1310.88 1162.0,1313.38 1164.0,1315.81 1166.0,1318.18 1168.0,1320.48 1170.0,1322.73 1172.0,1324.91 1174.0,1327.03 1176.0,1329.10 1178.0,1331.11 1180.0,1333.06 1182.0,1334.97 1184.0,1336.82 1186.0,1338.62 1188.0,1340.38 1190.0,1342.09 1192.0,1343.75 1194.0,1345.37 1196.0,1346.95 1198.0,1348.48 1200.0,1349.98 1202.0,1351.43 1204.0,1352.85 1206.0,1354.23 1208.0,1355.57 1210.0,1356.88 1212.0,1358.16 1214.0,1359.40 1216.0,1360.61 1218.0,1361.79 1220.0,1362.93 1222.0,1364.05 1224.0,1365.14 1226.0,1366.20 1228.0,1367.24 1230.0,1368.24 1232.0,1369.23 1234.0,1370.18 1236.0,1371.12 1238.0,1372.02 1240.0,1372.91 1242.0,1373.77 1244.0,1374.61 1246.0,1375.43 1248.0,1376.23 1250.0,1377.01 1252.0,1377.77 1254.0,1378.51 1256.0,1379.23 1258.0,1379.93 1260.0,1380.62 1262.0,1381.29 1264.0,1381.94 1266.0,1382.57 1268.0,1383.19 1270.0,1383.79 1272.0,1384.38 1274.0,1384.95 1276.0,1385.51 1278.0,1386.05 1280.0,1386.58 1282.0,1387.09 1284.0,1387.59 1286.0,1388.08 1288.0,1388.56 1290.0,1389.02 1292.0,1389.47 1294.0,1389.91 1296.0,1390.34 1298.0,1390.75 1300.0,1391.16 1302.0,1391.55 1304.0,1391.94 1306.0,1392.31 1308.0,1392.67 1310.0,1393.03 1312.0,1393.37 1314.0,1393.71 1316.0,1394.03 1318.0,1394.35 1320.0,1394.65 1322.0,1394.95 1324.0,1395.24 1326.0,1395.53 1328.0,1395.80 1330.0,1396.07 1332.0,1396.33 1334.0,1396.58 1336.0,1396.82 1338.0,1397.06" stroke="#0000ff" stroke-width="13" stroke-opacity="0.3"/>
<path d="M356.0,1115.69 358.0,1116.64 360.0,1117.61 362.0,1118.59 364.0,1119.59 366.0,1120.62 368.0,1121.66 370.0,1122.72 372.0,1123.79 374.0,1124.88 376.0,1125.99 378.0,1127.12 380.0,1128.26 382.0,1129.42 384.0,1130.59 386.0,1131.78 388.0,1132.98 390.0,1134.20 392.0,1135.43 394.0,1136.67 396.0,1137.93 398.0,1139.20 400.0,1140.48 402.0,1141.78 404.0,1143.09 406.0,1144.40 408.0,1145.73 410.0,1147.07 412.0,1148.42 414.0,1149.77 416.0,1151.14 418.0,1152.51 420.0,1153.89 422.0,1155.28 424.0,1156.68 426.0,1158.08 428.0,1159.49 430.0,1160.90 432.0,1162.32 434.0,1163.74 436.0,1165.16 438.0,1166.58 440.0,1168.01 442.0,1169.44 444.0,1170.87 446.0,1172.30 448.0,1173.73 450.0,1175.16 452.0,1176.58 454.0,1178.00 456.0,1179.42 458.0,1180.84 460.0,1182.25 462.0,1183.65 464.0,1185.04 466.0,1186.43 468.0,1187.81 470.0,1189.18 472.0,1190.54 474.0,1191.89 476.0,1193.23 478.0,1194.55 480.0,1195.86 482.0,1197.15 484.0,1198.42 486.0,1199.68 488.0,1200.92 490.0,1202.14 492.0,1203.34 494.0,1204.52 496.0,1205.68 498.0,1206.81 500.0,1207.91 502.0,1208.99 504.0,1210.04 506.0,1211.06 508.0,1212.05 510.0,1213.01 512.0,1213.93 514.0,1214.82 516.0,1215.67 518.0,1216.49 520.0,1217.26 522.0,1218.00 524.0,1218.69 526.0,1219.33 528.0,1219.94 530.0,1220.49 532.0,1221.00 534.0,1221.45 536.0,1221.85 538.0,1222.20 540.0,1222.49 542.0,1222.73 544.0,1222.90 546.0,1223.02 548.0,1223.07 550.0,1223.05 552.0,1222.97 554.0,1222.82 556.0,1222.60 558.0,1222.31 560.0,1221.94 562.0,1221.49 564.0,1220.97 566.0,1220.36 568.0,1219.68 570.0,1218.91 572.0,1218.05 574.0,1217.10 576.0,1216.06 578.0,1214.93 580.0,1213.71 582.0,1212.39 584.0,1210.97 586.0,1209.45 588.0,1207.83 590.0,1206.10 592.0,1204.26 594.0,1202.32 596.0,1200.27 598.0,1198.10 600.0,1195.82 602.0,1193.42 604.0,1190.91 606.0,1188.28 608.0,1185.52 610.0,1182.64 612.0,1179.64 614.0,1176.51 616.0,1173.26 618.0,1169.87 620.0,1166.35 622.0,1162.71 624.0,1158.92 626.0,1155.01 628.0,1150.96 630.0,1146.77 632.0,1142.44 634.0,1137.98 636.0,1133.37 638.0,1128.63 640.0,1123.74 642.0,1118.72 644.0,1113.55 646.0,1108.24 648.0,1102.79 650.0,1097.19 652.0,1091.45 654.0,1085.57 656.0,1079.55 658.0,1073.39 660.0,1067.08 662.0,1060.64 664.0,1054.05 666.0,1047.33 668.0,1040.47 670.0,1033.47 672.0,1026.33 674.0,1019.06 676.0,1011.66 678.0,1004.13 680.0,996.47 682.0,988.68 684.0,980.77 686.0,972.73 688.0,964.58 690.0,956.30 692.0,947.92 694.0,939.42 696.0,930.81 698.0,922.09 700.0,913.28 702.0,904.36 704.0,895.36 706.0,886.26 708.0,877.07 710.0,867.80 712.0,858.45 714.0,849.02 716.0,839.53 718.0,829.97 720.0,820.35 722.0,810.67 724.0,800.94 726.0,791.16 728.0,781.35 730.0,771.50 732.0,761.62 734.0,751.71 736.0,741.79 738.0,731.85 740.0,721.90 742.0,711.95 744.0,702.01 746.0,692.08 748.0,682.16 750.0,672.26 752.0,662.39 754.0,652.56 756.0,642.76 758.0,633.02 760.0,623.32 762.0,613.68 764.0,604.11 766.0,594.61 768.0,585.19 770.0,575.85 772.0,566.60 774.0,557.44 776.0,548.39 778.0,539.44 780.0,530.61 782.0,521.90 784.0,513.31 786.0,504.85 788.0,496.53 790.0,488.35 792.0,480.32 794.0,472.44 796.0,464.72 798.0,457.16 800.0,449.77 802.0,442.56 804.0,435.52 806.0,428.66 808.0,421.99 810.0,415.51 812.0,409.23 814.0,403.15 816.0,397.27 818.0,391.60 820.0,386.14 822.0,380.90 824.0,375.87 826.0,371.06 828.0,366.48 830.0,362.12 832.0,357.99 834.0,354.10 836.0,350.44 838.0,347.01 840.0,343.83 842.0,340.88 844.0,338.18 846.0,335.72 848.0,333.51 850.0,331.54 852.0,329.81 854.0,328.34 856.0,327.11 858.0,326.14 860.0,325.41 862.0,324.93 864.0,324.71 866.0,324.73 868.0,325.00 870.0,325.52 872.0,326.29 874.0,327.31 876.0,328.58 878.0,330.09 880.0,331.85 882.0,333.85 884.0,336.09 886.0,338.58 888.0,341.31 890.0,344.27 892.0,347.47 894.0,350.91 896.0,354.58 898.0,358.47 900.0,362.60 902.0,366.95 904.0,371.53 906.0,376.32 908.0,381.33 910.0,386.56 912.0,392.00 914.0,397.64 916.0,403.49 918.0,409.55 920.0,415.80 922.0,422.24 924.0,428.88 926.0,435.71 928.0,442.72 930.0,449.90 932.0,457.27 934.0,464.80 936.0,472.50 938.0,480.37 940.0,488.39 942.0,496.57 944.0,504.89 946.0,513.36 948.0,521.97 950.0,530.72 952.0,539.59 954.0,548.59 956.0,557.70 958.0,566.93 960.0,576.27 962.0,585.71 964.0,595.25 966.0,604.88 968.0,614.60 970.0,624.40 972.0,634.28 974.0,644.22 976.0,654.23 978.0,664.30 980.0,674.42 982.0,684.58 984.0,694.79 986.0,705.03 988.0,715.30 990.0,725.60 992.0,735.91 994.0,746.24 996.0,756.57 998.0,766.90 1000.0,777.23 1002.0,787.55 1004.0,797.85 1006.0,808.13 1008.0,818.39 1010.0,828.61 1012.0,838.79 1014.0,848.94 1016.0,859.03 1018.0,869.08 1020.0,879.06 1022.0,888.99 1024.0,898.85 1026.0,908.64 1028.0,918.35 1030.0,927.99 1032.0,937.54 1034.0,947.01 1036.0,956.39 1038.0,965.67 1040.0,974.85 1042.0,983.94 1044.0,992.92 1046.0,1001.80 1048.0,1010.56 1050.0,1019.22 1052.0,1027.76 1054.0,1036.18 1056.0,1044.49 1058.0,1052.68 1060.0,1060.74 1062.0,1068.69 1064.0,1076.50 1066.0,1084.19 1068.0,1091.76 1070.0,1099.19 1072.0,1106.50 1074.0,1113.68 1076.0,1120.73 1078.0,1127.65 1080.0,1134.44 1082.0,1141.10 1084.0,1147.63 1086.0,1154.03 1088.0,1160.31 1090.0,1166.45 1092.0,1172.47 1094.0,1178.36 1096.0,1184.12 1098.0,1189.76 1100.0,1195.27 1102.0,1200.66 1104.0,1205.93 1106.0,1211.08 1108.0,1216.11 1110.0,1221.02 1112.0,1225.82 1114.0,1230.50 1116.0,1235.07 1118.0,1239.53 1120.0,1243.88 1122.0,1248.12 1124.0,1252.26 1126.0,1256.29 1128.0,1260.22 1130.0,1264.05 1132.0,1267.79 1134.0,1271.42 1136.0,1274.97 1138.0,1278.42 1140.0,1281.78 1142.0,1285.05 1144.0,1288.24 1146.0,1291.35 1148.0,1294.37 1150.0,1297.31 1152.0,1300.17 1154.0,1302.96 1156.0,1305.67 1158.0,1308.31 1160.0,1310.88 1162.0,1313.38 1164.0,1315.81 1166.0,1318.18 1168.0,1320.48 1170.0,1322.73 1172.0,1324.91 1174.0,1327.03 1176.0,1329.10 1178.0,1331.11 1180.0,1333.06 1182.0,1334.97 1184.0,1336.82 1186.0,1338.62 1188.0,1340.38 1190.0,1342.09 1192.0,1343.75 1194.0,1345.37 1196.0,1346.95 1198.0,1348.48 1200.0,1349.98 1202.0,1351.43 1204.0,1352.85 1206.0,1354.23 1208.0,1355.57 1210.0,1356.88 1212.0,1358.16 1214.0,1359.40 1216.0,1360.61 1218.0,1361.79 1220.0,1362.93 1222.0,1364.05 1224.0,1365.14 1226.0,1366.20 1228.0,1367.24 1230.0,1368.24 1232.0,1369.23 1234.0,1370.18 1236.0,1371.12 1238.0,1372.02 1240.0,1372.91 1242.0,1373.77 1244.0,1374.61 1246.0,1375.43 1248.0,1376.23 1250.0,1377.01 1252.0,1377.77 1254.0,1378.51 1256.0,1379.23 1258.0,1379.93 1260.0,1380.62 1262.0,1381.29 1264.0,1381.94 1266.0,1382.57 1268.0,1383.19 1270.0,1383.79 1272.0,1384.38 1274.0,1384.95 1276.0,1385.51 1278.0,1386.05 1280.0,1386.58 1282.0,1387.09 1284.0,1387.59 1286.0,1388.08 1288.0,1388.56 1290.0,1389.02 1292.0,1389.47 1294.0,1389.91 1296.0,1390.34 1298.0,1390.75 1300.0,1391.16 1302.0,1391.55 1304.0,1391.94 1306.0,1392.31 1308.0,1392.67 1310.0,1393.03 1312.0,1393.37 1314.0,1393.71 1316.0,1394.03 1318.0,1394.35 1320.0,1394.65 1322.0,1394.95 1324.0,1395.24 1326.0,1395.53 1328.0,1395.80 1330.0,1396.07 1332.0,1396.33 1334.0,1396.58 1336.0,1396.82 1338.0,1397.06" stroke="#0000ff" stroke-width="9.5"/>
</g>
<g stroke-width="14.5" stroke-opacity="0.35"><line x1="1031.5" y1="216.4" x2="1171.5" y2="216.4" stroke="#ff0000"/><line x1="1031.5" y1="288.5" x2="1171.5" y2="288.5" stroke="#00ff00"/><line x1="1031.5" y1="360.8" x2="1171.5" y2="360.8" stroke="#0000ff"/></g>
<g stroke-width="9.3"><line x1="1031.5" y1="216.4" x2="1171.5" y2="216.4" stroke="#ff0000"/><line x1="1031.5" y1="288.5" x2="1171.5" y2="288.5" stroke="#00ff00"/><line x1="1031.5" y1="360.8" x2="1171.5" y2="360.8" stroke="#0000ff"/></g>
<g class="t" font-size="58"><text transform="translate(318,1448.5) scale(0.98,1.07)" text-anchor="end">0</text><text transform="translate(318,1277.4) scale(0.98,1.07)" text-anchor="end">10,000</text><text transform="translate(318,1106.2) scale(0.98,1.07)" text-anchor="end">20,000</text><text transform="translate(318,935.1) scale(0.98,1.07)" text-anchor="end">30,000</text><text transform="translate(318,764.0) scale(0.98,1.07)" text-anchor="end">40,000</text><text transform="translate(318,592.9) scale(0.98,1.07)" text-anchor="end">50,000</text><text transform="translate(318,421.8) scale(0.98,1.07)" text-anchor="end">60,000</text><text transform="translate(318,250.6) scale(0.98,1.07)" text-anchor="end">70,000</text><text transform="translate(318,79.5) scale(0.98,1.07)" text-anchor="end">80,000</text><text transform="translate(362.8,1522) scale(0.98,1.09)" text-anchor="middle">450</text><text transform="translate(605.6,1522) scale(0.98,1.09)" text-anchor="middle">500</text><text transform="translate(848.3,1522) scale(0.98,1.09)" text-anchor="middle">550</text><text transform="translate(1091.1,1522) scale(0.98,1.09)" text-anchor="middle">600</text><text transform="translate(1333.8,1522) scale(0.98,1.09)" text-anchor="middle">650</text><text transform="translate(1576.6,1522) scale(0.98,1.09)" text-anchor="middle">700</text><text transform="translate(1819.3,1522) scale(0.98,1.09)" text-anchor="middle">750</text><text transform="translate(2062.1,1522) scale(0.98,1.09)" text-anchor="middle">800</text></g>
<g class="t" font-size="58.2"><text transform="translate(1183.3,236.8) scale(1,1.035)">CdTe QDs-Ab</text><text transform="translate(1183.3,308.9) scale(1,1.035)">CdTe QDs-Ab+C QDs-CP</text><text transform="translate(1183.3,381.0) scale(1,1.035)">CdTe QDs-Ab+C QDs-CP+pure CP</text></g>
<text class="t" font-size="66.3" font-weight="bold" x="968.2" y="1634">Wavelength (nm)</text>
<text class="t" font-size="64.7" font-weight="bold" transform="translate(101.6,970.8) rotate(-90) scale(1,1.03)">FL Intensity (a.u.)</text>
</svg>
</body></html>
